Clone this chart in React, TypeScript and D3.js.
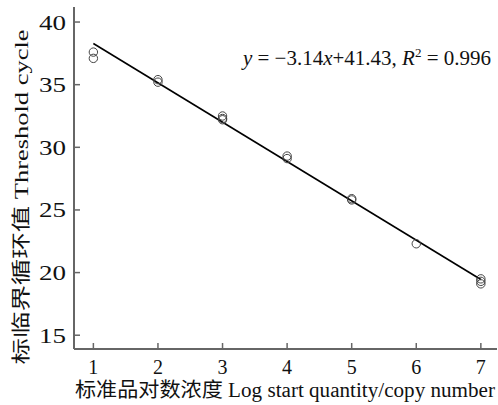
import React from "react";
import * as d3 from "d3";

const logQuantity = [1, 1, 2, 2, 3, 3, 3, 4, 4, 5, 5, 6, 7, 7, 7];
const thresholdCycle = [37.6, 37.1, 35.4, 35.2, 32.5, 32.3, 32.2, 29.3, 29.1, 25.9, 25.8, 22.3, 19.5, 19.3, 19.1];
const xTicks = [1, 2, 3, 4, 5, 6, 7];
const yTicks = [15, 20, 25, 30, 35, 40];
const slope = -3.14;
const intercept = 41.43;
const fitRange = [1, 7];

const W = 498;
const H = 405;
const serif = "'Liberation Serif', 'Times New Roman', 'Noto Sans CJK SC', serif";
const axisColor = "#666";

export default function App() {
  const x = d3.scaleLinear().domain([0.7, 7.25]).range([74, 497]);
  const y = d3.scaleLinear().domain([13.9, 41.2]).range([349, 7]);
  const line = d3
    .line<number>()
    .x((d) => x(d))
    .y((d) => y(slope * d + intercept));

  return (
    <svg width={W} height={H} style={{ position: "absolute", left: 0, top: 0, background: "#fff" }}>
      {/* axes */}
      <line x1={x.range()[0]} x2={x.range()[0]} y1={y.range()[1]} y2={y.range()[0]} stroke={axisColor} strokeWidth={2} />
      <line x1={x.range()[0]} x2={x.range()[1]} y1={y.range()[0]} y2={y.range()[0]} stroke={axisColor} strokeWidth={2} />
      {yTicks.map((t) => (
        <g key={"y" + t}>
          <line x1={x.range()[0]} x2={x.range()[0] + 6} y1={y(t)} y2={y(t)} stroke={axisColor} strokeWidth={1.5} />
          <text
            x={66}
            y={y(t) + 7.5}
            textAnchor="end"
            fontFamily={serif}
            fontSize={22}
            fill="#111"
            textLength={27}
            lengthAdjust="spacingAndGlyphs"
          >
            {t}
          </text>
        </g>
      ))}
      {xTicks.map((t) => (
        <g key={"x" + t}>
          <line x1={x(t)} x2={x(t)} y1={y.range()[0]} y2={y.range()[0] - 6} stroke={axisColor} strokeWidth={1.5} />
          <text x={x(t)} y={373.5} textAnchor="middle" fontFamily={serif} fontSize={20} fill="#111">
            {t}
          </text>
        </g>
      ))}
      {/* fit line */}
      <path d={line(fitRange) || ""} stroke="#000" strokeWidth={1.6} fill="none" />
      {/* points */}
      {logQuantity.map((q, i) => (
        <circle key={i} cx={x(q)} cy={y(thresholdCycle[i])} r={4.2} fill="none" stroke="#444" strokeWidth={1} />
      ))}
      {/* equation */}
      <text x={491} y={65} textAnchor="end" fontFamily={serif} fontSize={21} fill="#111">
        <tspan fontStyle="italic">y</tspan>
        <tspan> = −3.14</tspan>
        <tspan fontStyle="italic">x</tspan>
        <tspan>+41.43, </tspan>
        <tspan fontStyle="italic">R</tspan>
        <tspan fontSize={13} dy={-8}>2</tspan>
        <tspan dy={8}> = 0.996</tspan>
      </text>
      {/* axis titles */}
      <text
        x={285}
        y={397}
        textAnchor="middle"
        fontFamily={serif}
        fontSize={20}
        fill="#111"
        textLength={420}
        lengthAdjust="spacingAndGlyphs"
      >
        标准品对数浓度 Log start quantity/copy number
      </text>
      <text
        transform={`translate(28, 197) rotate(-90)`}
        textAnchor="middle"
        fontFamily={serif}
        fontSize={19}
        fill="#111"
        textLength={335}
        lengthAdjust="spacingAndGlyphs"
      >
        标临界循环值 Threshold cycle
      </text>
    </svg>
  );
}
